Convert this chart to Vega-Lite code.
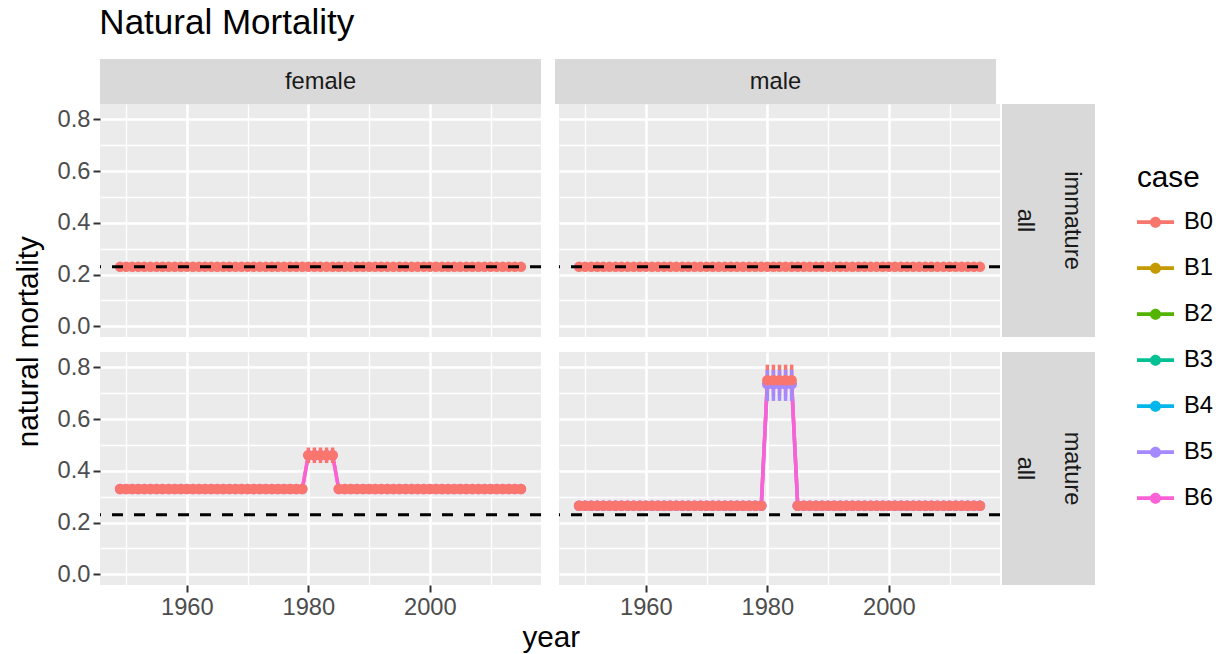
{
"$schema":"https://vega.github.io/schema/vega-lite/v6.json",
"padding":{"left":14,"top":6,"right":5,"bottom":5},
"config":{"font":"Liberation Sans","view":{"stroke":null},
"axis":{"labelFontSize":23.7,"labelColor":"#4D4D4D","tickColor":"#333333","tickSize":7,"tickWidth":2,"domain":false,"gridColor":"#FFFFFF","labelPadding":3,"titleFontSize":29.7,"titleFontWeight":"normal","titleColor":"#000000"},
"legend":{"titleFontSize":29.7,"titleFontWeight":"normal","titleColor":"#000000","labelFontSize":23.7,"labelColor":"#000000","symbolSize":1369,"symbolStrokeWidth":0,"rowPadding":15,"labelOffset":10,"titlePadding":10},
"title":{"fontSize":35,"fontWeight":"normal","color":"#000000"}},
"title":{"text":"Natural Mortality","anchor":"start","dx":85,"offset":18},
"datasets":{
"ref":[{"M":0.23}],
"strips":[{"sex":"female"},{"sex":"male"}],
"rowstrips":[{"stage":"immature","k":1,"label":"all"},{"stage":"immature","k":2,"label":"immature"},{"stage":"mature","k":1,"label":"all"},{"stage":"mature","k":2,"label":"mature"}],
"fi":[{"case":"B0","year":1949,"M":0.23},{"case":"B0","year":1950,"M":0.23},{"case":"B0","year":1951,"M":0.23},{"case":"B0","year":1952,"M":0.23},{"case":"B0","year":1953,"M":0.23},{"case":"B0","year":1954,"M":0.23},{"case":"B0","year":1955,"M":0.23},{"case":"B0","year":1956,"M":0.23},{"case":"B0","year":1957,"M":0.23},{"case":"B0","year":1958,"M":0.23},{"case":"B0","year":1959,"M":0.23},{"case":"B0","year":1960,"M":0.23},{"case":"B0","year":1961,"M":0.23},{"case":"B0","year":1962,"M":0.23},{"case":"B0","year":1963,"M":0.23},{"case":"B0","year":1964,"M":0.23},{"case":"B0","year":1965,"M":0.23},{"case":"B0","year":1966,"M":0.23},{"case":"B0","year":1967,"M":0.23},{"case":"B0","year":1968,"M":0.23},{"case":"B0","year":1969,"M":0.23},{"case":"B0","year":1970,"M":0.23},{"case":"B0","year":1971,"M":0.23},{"case":"B0","year":1972,"M":0.23},{"case":"B0","year":1973,"M":0.23},{"case":"B0","year":1974,"M":0.23},{"case":"B0","year":1975,"M":0.23},{"case":"B0","year":1976,"M":0.23},{"case":"B0","year":1977,"M":0.23},{"case":"B0","year":1978,"M":0.23},{"case":"B0","year":1979,"M":0.23},{"case":"B0","year":1980,"M":0.23},{"case":"B0","year":1981,"M":0.23},{"case":"B0","year":1982,"M":0.23},{"case":"B0","year":1983,"M":0.23},{"case":"B0","year":1984,"M":0.23},{"case":"B0","year":1985,"M":0.23},{"case":"B0","year":1986,"M":0.23},{"case":"B0","year":1987,"M":0.23},{"case":"B0","year":1988,"M":0.23},{"case":"B0","year":1989,"M":0.23},{"case":"B0","year":1990,"M":0.23},{"case":"B0","year":1991,"M":0.23},{"case":"B0","year":1992,"M":0.23},{"case":"B0","year":1993,"M":0.23},{"case":"B0","year":1994,"M":0.23},{"case":"B0","year":1995,"M":0.23},{"case":"B0","year":1996,"M":0.23},{"case":"B0","year":1997,"M":0.23},{"case":"B0","year":1998,"M":0.23},{"case":"B0","year":1999,"M":0.23},{"case":"B0","year":2000,"M":0.23},{"case":"B0","year":2001,"M":0.23},{"case":"B0","year":2002,"M":0.23},{"case":"B0","year":2003,"M":0.23},{"case":"B0","year":2004,"M":0.23},{"case":"B0","year":2005,"M":0.23},{"case":"B0","year":2006,"M":0.23},{"case":"B0","year":2007,"M":0.23},{"case":"B0","year":2008,"M":0.23},{"case":"B0","year":2009,"M":0.23},{"case":"B0","year":2010,"M":0.23},{"case":"B0","year":2011,"M":0.23},{"case":"B0","year":2012,"M":0.23},{"case":"B0","year":2013,"M":0.23},{"case":"B0","year":2014,"M":0.23},{"case":"B0","year":2015,"M":0.23}],
"mi":[{"case":"B0","year":1949,"M":0.23},{"case":"B0","year":1950,"M":0.23},{"case":"B0","year":1951,"M":0.23},{"case":"B0","year":1952,"M":0.23},{"case":"B0","year":1953,"M":0.23},{"case":"B0","year":1954,"M":0.23},{"case":"B0","year":1955,"M":0.23},{"case":"B0","year":1956,"M":0.23},{"case":"B0","year":1957,"M":0.23},{"case":"B0","year":1958,"M":0.23},{"case":"B0","year":1959,"M":0.23},{"case":"B0","year":1960,"M":0.23},{"case":"B0","year":1961,"M":0.23},{"case":"B0","year":1962,"M":0.23},{"case":"B0","year":1963,"M":0.23},{"case":"B0","year":1964,"M":0.23},{"case":"B0","year":1965,"M":0.23},{"case":"B0","year":1966,"M":0.23},{"case":"B0","year":1967,"M":0.23},{"case":"B0","year":1968,"M":0.23},{"case":"B0","year":1969,"M":0.23},{"case":"B0","year":1970,"M":0.23},{"case":"B0","year":1971,"M":0.23},{"case":"B0","year":1972,"M":0.23},{"case":"B0","year":1973,"M":0.23},{"case":"B0","year":1974,"M":0.23},{"case":"B0","year":1975,"M":0.23},{"case":"B0","year":1976,"M":0.23},{"case":"B0","year":1977,"M":0.23},{"case":"B0","year":1978,"M":0.23},{"case":"B0","year":1979,"M":0.23},{"case":"B0","year":1980,"M":0.23},{"case":"B0","year":1981,"M":0.23},{"case":"B0","year":1982,"M":0.23},{"case":"B0","year":1983,"M":0.23},{"case":"B0","year":1984,"M":0.23},{"case":"B0","year":1985,"M":0.23},{"case":"B0","year":1986,"M":0.23},{"case":"B0","year":1987,"M":0.23},{"case":"B0","year":1988,"M":0.23},{"case":"B0","year":1989,"M":0.23},{"case":"B0","year":1990,"M":0.23},{"case":"B0","year":1991,"M":0.23},{"case":"B0","year":1992,"M":0.23},{"case":"B0","year":1993,"M":0.23},{"case":"B0","year":1994,"M":0.23},{"case":"B0","year":1995,"M":0.23},{"case":"B0","year":1996,"M":0.23},{"case":"B0","year":1997,"M":0.23},{"case":"B0","year":1998,"M":0.23},{"case":"B0","year":1999,"M":0.23},{"case":"B0","year":2000,"M":0.23},{"case":"B0","year":2001,"M":0.23},{"case":"B0","year":2002,"M":0.23},{"case":"B0","year":2003,"M":0.23},{"case":"B0","year":2004,"M":0.23},{"case":"B0","year":2005,"M":0.23},{"case":"B0","year":2006,"M":0.23},{"case":"B0","year":2007,"M":0.23},{"case":"B0","year":2008,"M":0.23},{"case":"B0","year":2009,"M":0.23},{"case":"B0","year":2010,"M":0.23},{"case":"B0","year":2011,"M":0.23},{"case":"B0","year":2012,"M":0.23},{"case":"B0","year":2013,"M":0.23},{"case":"B0","year":2014,"M":0.23},{"case":"B0","year":2015,"M":0.23}],
"fm":[{"case":"B0","year":1949,"M":0.33},{"case":"B0","year":1950,"M":0.33},{"case":"B0","year":1951,"M":0.33},{"case":"B0","year":1952,"M":0.33},{"case":"B0","year":1953,"M":0.33},{"case":"B0","year":1954,"M":0.33},{"case":"B0","year":1955,"M":0.33},{"case":"B0","year":1956,"M":0.33},{"case":"B0","year":1957,"M":0.33},{"case":"B0","year":1958,"M":0.33},{"case":"B0","year":1959,"M":0.33},{"case":"B0","year":1960,"M":0.33},{"case":"B0","year":1961,"M":0.33},{"case":"B0","year":1962,"M":0.33},{"case":"B0","year":1963,"M":0.33},{"case":"B0","year":1964,"M":0.33},{"case":"B0","year":1965,"M":0.33},{"case":"B0","year":1966,"M":0.33},{"case":"B0","year":1967,"M":0.33},{"case":"B0","year":1968,"M":0.33},{"case":"B0","year":1969,"M":0.33},{"case":"B0","year":1970,"M":0.33},{"case":"B0","year":1971,"M":0.33},{"case":"B0","year":1972,"M":0.33},{"case":"B0","year":1973,"M":0.33},{"case":"B0","year":1974,"M":0.33},{"case":"B0","year":1975,"M":0.33},{"case":"B0","year":1976,"M":0.33},{"case":"B0","year":1977,"M":0.33},{"case":"B0","year":1978,"M":0.33},{"case":"B0","year":1979,"M":0.33},{"case":"B0","year":1980,"M":0.46,"lo":0.43,"hi":0.49},{"case":"B0","year":1981,"M":0.46,"lo":0.43,"hi":0.49},{"case":"B0","year":1982,"M":0.46,"lo":0.43,"hi":0.49},{"case":"B0","year":1983,"M":0.46,"lo":0.43,"hi":0.49},{"case":"B0","year":1984,"M":0.46,"lo":0.43,"hi":0.49},{"case":"B0","year":1985,"M":0.33},{"case":"B0","year":1986,"M":0.33},{"case":"B0","year":1987,"M":0.33},{"case":"B0","year":1988,"M":0.33},{"case":"B0","year":1989,"M":0.33},{"case":"B0","year":1990,"M":0.33},{"case":"B0","year":1991,"M":0.33},{"case":"B0","year":1992,"M":0.33},{"case":"B0","year":1993,"M":0.33},{"case":"B0","year":1994,"M":0.33},{"case":"B0","year":1995,"M":0.33},{"case":"B0","year":1996,"M":0.33},{"case":"B0","year":1997,"M":0.33},{"case":"B0","year":1998,"M":0.33},{"case":"B0","year":1999,"M":0.33},{"case":"B0","year":2000,"M":0.33},{"case":"B0","year":2001,"M":0.33},{"case":"B0","year":2002,"M":0.33},{"case":"B0","year":2003,"M":0.33},{"case":"B0","year":2004,"M":0.33},{"case":"B0","year":2005,"M":0.33},{"case":"B0","year":2006,"M":0.33},{"case":"B0","year":2007,"M":0.33},{"case":"B0","year":2008,"M":0.33},{"case":"B0","year":2009,"M":0.33},{"case":"B0","year":2010,"M":0.33},{"case":"B0","year":2011,"M":0.33},{"case":"B0","year":2012,"M":0.33},{"case":"B0","year":2013,"M":0.33},{"case":"B0","year":2014,"M":0.33},{"case":"B0","year":2015,"M":0.33},
{"case":"B6","year":1949,"M":0.33},{"case":"B6","year":1950,"M":0.33},{"case":"B6","year":1951,"M":0.33},{"case":"B6","year":1952,"M":0.33},{"case":"B6","year":1953,"M":0.33},{"case":"B6","year":1954,"M":0.33},{"case":"B6","year":1955,"M":0.33},{"case":"B6","year":1956,"M":0.33},{"case":"B6","year":1957,"M":0.33},{"case":"B6","year":1958,"M":0.33},{"case":"B6","year":1959,"M":0.33},{"case":"B6","year":1960,"M":0.33},{"case":"B6","year":1961,"M":0.33},{"case":"B6","year":1962,"M":0.33},{"case":"B6","year":1963,"M":0.33},{"case":"B6","year":1964,"M":0.33},{"case":"B6","year":1965,"M":0.33},{"case":"B6","year":1966,"M":0.33},{"case":"B6","year":1967,"M":0.33},{"case":"B6","year":1968,"M":0.33},{"case":"B6","year":1969,"M":0.33},{"case":"B6","year":1970,"M":0.33},{"case":"B6","year":1971,"M":0.33},{"case":"B6","year":1972,"M":0.33},{"case":"B6","year":1973,"M":0.33},{"case":"B6","year":1974,"M":0.33},{"case":"B6","year":1975,"M":0.33},{"case":"B6","year":1976,"M":0.33},{"case":"B6","year":1977,"M":0.33},{"case":"B6","year":1978,"M":0.33},{"case":"B6","year":1979,"M":0.33},{"case":"B6","year":1980,"M":0.46},{"case":"B6","year":1981,"M":0.46},{"case":"B6","year":1982,"M":0.46},{"case":"B6","year":1983,"M":0.46},{"case":"B6","year":1984,"M":0.46},{"case":"B6","year":1985,"M":0.33},{"case":"B6","year":1986,"M":0.33},{"case":"B6","year":1987,"M":0.33},{"case":"B6","year":1988,"M":0.33},{"case":"B6","year":1989,"M":0.33},{"case":"B6","year":1990,"M":0.33},{"case":"B6","year":1991,"M":0.33},{"case":"B6","year":1992,"M":0.33},{"case":"B6","year":1993,"M":0.33},{"case":"B6","year":1994,"M":0.33},{"case":"B6","year":1995,"M":0.33},{"case":"B6","year":1996,"M":0.33},{"case":"B6","year":1997,"M":0.33},{"case":"B6","year":1998,"M":0.33},{"case":"B6","year":1999,"M":0.33},{"case":"B6","year":2000,"M":0.33},{"case":"B6","year":2001,"M":0.33},{"case":"B6","year":2002,"M":0.33},{"case":"B6","year":2003,"M":0.33},{"case":"B6","year":2004,"M":0.33},{"case":"B6","year":2005,"M":0.33},{"case":"B6","year":2006,"M":0.33},{"case":"B6","year":2007,"M":0.33},{"case":"B6","year":2008,"M":0.33},{"case":"B6","year":2009,"M":0.33},{"case":"B6","year":2010,"M":0.33},{"case":"B6","year":2011,"M":0.33},{"case":"B6","year":2012,"M":0.33},{"case":"B6","year":2013,"M":0.33},{"case":"B6","year":2014,"M":0.33},{"case":"B6","year":2015,"M":0.33}],
"mm":[{"case":"B0","year":1949,"M":0.265},{"case":"B0","year":1950,"M":0.265},{"case":"B0","year":1951,"M":0.265},{"case":"B0","year":1952,"M":0.265},{"case":"B0","year":1953,"M":0.265},{"case":"B0","year":1954,"M":0.265},{"case":"B0","year":1955,"M":0.265},{"case":"B0","year":1956,"M":0.265},{"case":"B0","year":1957,"M":0.265},{"case":"B0","year":1958,"M":0.265},{"case":"B0","year":1959,"M":0.265},{"case":"B0","year":1960,"M":0.265},{"case":"B0","year":1961,"M":0.265},{"case":"B0","year":1962,"M":0.265},{"case":"B0","year":1963,"M":0.265},{"case":"B0","year":1964,"M":0.265},{"case":"B0","year":1965,"M":0.265},{"case":"B0","year":1966,"M":0.265},{"case":"B0","year":1967,"M":0.265},{"case":"B0","year":1968,"M":0.265},{"case":"B0","year":1969,"M":0.265},{"case":"B0","year":1970,"M":0.265},{"case":"B0","year":1971,"M":0.265},{"case":"B0","year":1972,"M":0.265},{"case":"B0","year":1973,"M":0.265},{"case":"B0","year":1974,"M":0.265},{"case":"B0","year":1975,"M":0.265},{"case":"B0","year":1976,"M":0.265},{"case":"B0","year":1977,"M":0.265},{"case":"B0","year":1978,"M":0.265},{"case":"B0","year":1979,"M":0.265},{"case":"B0","year":1980,"M":0.75,"lo":0.69,"hi":0.81},{"case":"B0","year":1981,"M":0.75,"lo":0.69,"hi":0.81},{"case":"B0","year":1982,"M":0.75,"lo":0.69,"hi":0.81},{"case":"B0","year":1983,"M":0.75,"lo":0.69,"hi":0.81},{"case":"B0","year":1984,"M":0.75,"lo":0.69,"hi":0.81},{"case":"B0","year":1985,"M":0.265},{"case":"B0","year":1986,"M":0.265},{"case":"B0","year":1987,"M":0.265},{"case":"B0","year":1988,"M":0.265},{"case":"B0","year":1989,"M":0.265},{"case":"B0","year":1990,"M":0.265},{"case":"B0","year":1991,"M":0.265},{"case":"B0","year":1992,"M":0.265},{"case":"B0","year":1993,"M":0.265},{"case":"B0","year":1994,"M":0.265},{"case":"B0","year":1995,"M":0.265},{"case":"B0","year":1996,"M":0.265},{"case":"B0","year":1997,"M":0.265},{"case":"B0","year":1998,"M":0.265},{"case":"B0","year":1999,"M":0.265},{"case":"B0","year":2000,"M":0.265},{"case":"B0","year":2001,"M":0.265},{"case":"B0","year":2002,"M":0.265},{"case":"B0","year":2003,"M":0.265},{"case":"B0","year":2004,"M":0.265},{"case":"B0","year":2005,"M":0.265},{"case":"B0","year":2006,"M":0.265},{"case":"B0","year":2007,"M":0.265},{"case":"B0","year":2008,"M":0.265},{"case":"B0","year":2009,"M":0.265},{"case":"B0","year":2010,"M":0.265},{"case":"B0","year":2011,"M":0.265},{"case":"B0","year":2012,"M":0.265},{"case":"B0","year":2013,"M":0.265},{"case":"B0","year":2014,"M":0.265},{"case":"B0","year":2015,"M":0.265},
{"case":"B5","year":1949,"M":0.265},{"case":"B5","year":1950,"M":0.265},{"case":"B5","year":1951,"M":0.265},{"case":"B5","year":1952,"M":0.265},{"case":"B5","year":1953,"M":0.265},{"case":"B5","year":1954,"M":0.265},{"case":"B5","year":1955,"M":0.265},{"case":"B5","year":1956,"M":0.265},{"case":"B5","year":1957,"M":0.265},{"case":"B5","year":1958,"M":0.265},{"case":"B5","year":1959,"M":0.265},{"case":"B5","year":1960,"M":0.265},{"case":"B5","year":1961,"M":0.265},{"case":"B5","year":1962,"M":0.265},{"case":"B5","year":1963,"M":0.265},{"case":"B5","year":1964,"M":0.265},{"case":"B5","year":1965,"M":0.265},{"case":"B5","year":1966,"M":0.265},{"case":"B5","year":1967,"M":0.265},{"case":"B5","year":1968,"M":0.265},{"case":"B5","year":1969,"M":0.265},{"case":"B5","year":1970,"M":0.265},{"case":"B5","year":1971,"M":0.265},{"case":"B5","year":1972,"M":0.265},{"case":"B5","year":1973,"M":0.265},{"case":"B5","year":1974,"M":0.265},{"case":"B5","year":1975,"M":0.265},{"case":"B5","year":1976,"M":0.265},{"case":"B5","year":1977,"M":0.265},{"case":"B5","year":1978,"M":0.265},{"case":"B5","year":1979,"M":0.265},{"case":"B5","year":1980,"M":0.735,"lo":0.67,"hi":0.79},{"case":"B5","year":1981,"M":0.735,"lo":0.67,"hi":0.79},{"case":"B5","year":1982,"M":0.735,"lo":0.67,"hi":0.79},{"case":"B5","year":1983,"M":0.735,"lo":0.67,"hi":0.79},{"case":"B5","year":1984,"M":0.735,"lo":0.67,"hi":0.79},{"case":"B5","year":1985,"M":0.265},{"case":"B5","year":1986,"M":0.265},{"case":"B5","year":1987,"M":0.265},{"case":"B5","year":1988,"M":0.265},{"case":"B5","year":1989,"M":0.265},{"case":"B5","year":1990,"M":0.265},{"case":"B5","year":1991,"M":0.265},{"case":"B5","year":1992,"M":0.265},{"case":"B5","year":1993,"M":0.265},{"case":"B5","year":1994,"M":0.265},{"case":"B5","year":1995,"M":0.265},{"case":"B5","year":1996,"M":0.265},{"case":"B5","year":1997,"M":0.265},{"case":"B5","year":1998,"M":0.265},{"case":"B5","year":1999,"M":0.265},{"case":"B5","year":2000,"M":0.265},{"case":"B5","year":2001,"M":0.265},{"case":"B5","year":2002,"M":0.265},{"case":"B5","year":2003,"M":0.265},{"case":"B5","year":2004,"M":0.265},{"case":"B5","year":2005,"M":0.265},{"case":"B5","year":2006,"M":0.265},{"case":"B5","year":2007,"M":0.265},{"case":"B5","year":2008,"M":0.265},{"case":"B5","year":2009,"M":0.265},{"case":"B5","year":2010,"M":0.265},{"case":"B5","year":2011,"M":0.265},{"case":"B5","year":2012,"M":0.265},{"case":"B5","year":2013,"M":0.265},{"case":"B5","year":2014,"M":0.265},{"case":"B5","year":2015,"M":0.265},
{"case":"B6","year":1949,"M":0.265},{"case":"B6","year":1950,"M":0.265},{"case":"B6","year":1951,"M":0.265},{"case":"B6","year":1952,"M":0.265},{"case":"B6","year":1953,"M":0.265},{"case":"B6","year":1954,"M":0.265},{"case":"B6","year":1955,"M":0.265},{"case":"B6","year":1956,"M":0.265},{"case":"B6","year":1957,"M":0.265},{"case":"B6","year":1958,"M":0.265},{"case":"B6","year":1959,"M":0.265},{"case":"B6","year":1960,"M":0.265},{"case":"B6","year":1961,"M":0.265},{"case":"B6","year":1962,"M":0.265},{"case":"B6","year":1963,"M":0.265},{"case":"B6","year":1964,"M":0.265},{"case":"B6","year":1965,"M":0.265},{"case":"B6","year":1966,"M":0.265},{"case":"B6","year":1967,"M":0.265},{"case":"B6","year":1968,"M":0.265},{"case":"B6","year":1969,"M":0.265},{"case":"B6","year":1970,"M":0.265},{"case":"B6","year":1971,"M":0.265},{"case":"B6","year":1972,"M":0.265},{"case":"B6","year":1973,"M":0.265},{"case":"B6","year":1974,"M":0.265},{"case":"B6","year":1975,"M":0.265},{"case":"B6","year":1976,"M":0.265},{"case":"B6","year":1977,"M":0.265},{"case":"B6","year":1978,"M":0.265},{"case":"B6","year":1979,"M":0.265},{"case":"B6","year":1980,"M":0.735},{"case":"B6","year":1981,"M":0.735},{"case":"B6","year":1982,"M":0.735},{"case":"B6","year":1983,"M":0.735},{"case":"B6","year":1984,"M":0.735},{"case":"B6","year":1985,"M":0.265},{"case":"B6","year":1986,"M":0.265},{"case":"B6","year":1987,"M":0.265},{"case":"B6","year":1988,"M":0.265},{"case":"B6","year":1989,"M":0.265},{"case":"B6","year":1990,"M":0.265},{"case":"B6","year":1991,"M":0.265},{"case":"B6","year":1992,"M":0.265},{"case":"B6","year":1993,"M":0.265},{"case":"B6","year":1994,"M":0.265},{"case":"B6","year":1995,"M":0.265},{"case":"B6","year":1996,"M":0.265},{"case":"B6","year":1997,"M":0.265},{"case":"B6","year":1998,"M":0.265},{"case":"B6","year":1999,"M":0.265},{"case":"B6","year":2000,"M":0.265},{"case":"B6","year":2001,"M":0.265},{"case":"B6","year":2002,"M":0.265},{"case":"B6","year":2003,"M":0.265},{"case":"B6","year":2004,"M":0.265},{"case":"B6","year":2005,"M":0.265},{"case":"B6","year":2006,"M":0.265},{"case":"B6","year":2007,"M":0.265},{"case":"B6","year":2008,"M":0.265},{"case":"B6","year":2009,"M":0.265},{"case":"B6","year":2010,"M":0.265},{"case":"B6","year":2011,"M":0.265},{"case":"B6","year":2012,"M":0.265},{"case":"B6","year":2013,"M":0.265},{"case":"B6","year":2014,"M":0.265},{"case":"B6","year":2015,"M":0.265}]
},
"resolve":{"scale":{"color":"shared"},"legend":{"color":"shared"}},
"spacing":0,
"vconcat":[
{"hconcat":[
 {"width":441,"height":45,"view":{"fill":"#D9D9D9","stroke":null},"layer":[
  {"data":{"name":"strips"},"transform":[{"filter":"datum.sex=='female'"}],"mark":{"type":"text","fontSize":23.7,"color":"#1A1A1A"},"encoding":{"text":{"field":"sex"}}},
  {"data":{"name":"ref"},"mark":{"type":"rule","opacity":0},"encoding":{"y":{"field":"M","type":"quantitative","scale":{"domain":[0,1]},"axis":{"values":[0.5],"labelExpr":"'0.0'","labelColor":"transparent","tickColor":"transparent","grid":false,"title":"n","titleColor":"transparent","titlePadding":12}}}}
 ]},
 {"width":441,"height":45,"view":{"fill":"#D9D9D9","stroke":null},"data":{"name":"strips"},"transform":[{"filter":"datum.sex=='male'"}],"mark":{"type":"text","fontSize":23.7,"color":"#1A1A1A"},"encoding":{"text":{"field":"sex"}}}
],"spacing":14},
{"title":{"text":"natural mortality","orient":"left","anchor":"middle","fontSize":29.7,"offset":12,"dx":36.5},
 "vconcat":[
 {"hconcat":[
  {"hconcat":[
   {"width":441,"height":233,"view":{"fill":"#EBEBEB","stroke":null},"resolve":{"axis":{"y":"independent"}},"layer":[
     {"data":{"name":"fi"},"encoding":{
       "x":{"field":"year","type":"quantitative","scale":{"domain":[1945.7,2018.3],"nice":false,"zero":false},"axis":{"values":[1950,1960,1970,1980,1990,2000,2010],"labels":false,"ticks":false,"title":null,"gridWidth":{"condition":{"test":"datum.value % 20 != 0","value":1.3},"value":2.6}}},
       "y":{"field":"M","type":"quantitative","scale":{"domain":[-0.041,0.859],"nice":false,"zero":false},"axis":{"values":[0,0.1,0.2,0.3,0.4,0.5,0.6,0.7,0.8],"labelExpr":"round(datum.value*10) % 2 == 0 ? format(datum.value,'.1f') : ''","tickOpacity":{"condition":{"test":"round(datum.value*10) % 2 == 1","value":0},"value":1},"gridWidth":{"condition":{"test":"round(datum.value*10) % 2 == 1","value":1.3},"value":2.6},"title":null}},
       "color":{"field":"case","type":"nominal","scale":{"domain":["B0","B1","B2","B3","B4","B5","B6"],"range":["#F8766D","#C49A00","#53B400","#00C094","#00B6EB","#A58AFF","#FB61D7"]},"legend":{"title":"case","orient":"none","legendX":1037,"legendY":105,"symbolType":"M-1,-0.1L1,-0.1L1,0.1L-1,0.1Z M0.3,0A0.3,0.3 0 1,1 -0.3,0A0.3,0.3 0 1,1 0.3,0Z","encode":{"symbols":{"update":{"fill":{"scale":"color","field":"value"},"stroke":{"value":"transparent"},"opacity":{"value":1}}}}}}},
      "layer":[
       {"mark":{"type":"line","strokeWidth":3.5}},
       {"transform":[{"filter":"isValid(datum.lo)"}],"mark":{"type":"rule","strokeWidth":3.5},"encoding":{"y":{"field":"lo","type":"quantitative"},"y2":{"field":"hi"}}},
       {"mark":{"type":"point","filled":true,"size":110,"opacity":1},"encoding":{"order":{"field":"case","sort":"descending"}}}
      ]},
     {"data":{"name":"ref"},"mark":{"type":"rule","color":"#000000","strokeWidth":3,"strokeDash":[11,11]},"encoding":{"y":{"field":"M","type":"quantitative","scale":{"domain":[-0.041,0.859],"nice":false,"zero":false},"axis":null}}}
   ]},
   {"width":441,"height":233,"view":{"fill":"#EBEBEB","stroke":null},"resolve":{"axis":{"y":"independent"}},"layer":[
     {"data":{"name":"mi"},"encoding":{
       "x":{"field":"year","type":"quantitative","scale":{"domain":[1945.7,2018.3],"nice":false,"zero":false},"axis":{"values":[1950,1960,1970,1980,1990,2000,2010],"labels":false,"ticks":false,"title":null,"gridWidth":{"condition":{"test":"datum.value % 20 != 0","value":1.3},"value":2.6}}},
       "y":{"field":"M","type":"quantitative","scale":{"domain":[-0.041,0.859],"nice":false,"zero":false},"axis":{"values":[0,0.1,0.2,0.3,0.4,0.5,0.6,0.7,0.8],"labels":false,"ticks":false,"title":null,"gridWidth":{"condition":{"test":"round(datum.value*10) % 2 == 1","value":1.3},"value":2.6}}},
       "color":{"field":"case","type":"nominal","scale":{"domain":["B0","B1","B2","B3","B4","B5","B6"],"range":["#F8766D","#C49A00","#53B400","#00C094","#00B6EB","#A58AFF","#FB61D7"]},"legend":{"title":"case","orient":"none","legendX":1037,"legendY":105,"symbolType":"M-1,-0.1L1,-0.1L1,0.1L-1,0.1Z M0.3,0A0.3,0.3 0 1,1 -0.3,0A0.3,0.3 0 1,1 0.3,0Z","encode":{"symbols":{"update":{"fill":{"scale":"color","field":"value"},"stroke":{"value":"transparent"},"opacity":{"value":1}}}}}}},
      "layer":[
       {"mark":{"type":"line","strokeWidth":3.5}},
       {"transform":[{"filter":"isValid(datum.lo)"}],"mark":{"type":"rule","strokeWidth":3.5},"encoding":{"y":{"field":"lo","type":"quantitative"},"y2":{"field":"hi"}}},
       {"mark":{"type":"point","filled":true,"size":110,"opacity":1},"encoding":{"order":{"field":"case","sort":"descending"}}}
      ]},
     {"data":{"name":"ref"},"mark":{"type":"rule","color":"#000000","strokeWidth":3,"strokeDash":[11,11]},"encoding":{"y":{"field":"M","type":"quantitative","scale":{"domain":[-0.041,0.859],"nice":false,"zero":false},"axis":null}}}
   ]}
  ],"spacing":14},
  {"width":93,"height":233,"view":{"fill":"#D9D9D9","stroke":null},"data":{"name":"rowstrips"},"transform":[{"filter":"datum.stage=='immature'"}],"mark":{"type":"text","fontSize":23.7,"color":"#1A1A1A","angle":90,"baseline":"middle","align":"center"},"encoding":{"x":{"field":"k","type":"ordinal","scale":{"type":"point","padding":0.5},"axis":null},"text":{"field":"label"}}}
 ],"spacing":0},
 {"hconcat":[
  {"title":{"text":"year","orient":"bottom","anchor":"middle","fontSize":29.7,"offset":5,"dx":22},
   "hconcat":[
   {"width":441,"height":233,"view":{"fill":"#EBEBEB","stroke":null},"resolve":{"axis":{"y":"independent"}},"layer":[
     {"data":{"name":"fm"},"encoding":{
       "x":{"field":"year","type":"quantitative","scale":{"domain":[1945.7,2018.3],"nice":false,"zero":false},"axis":{"values":[1950,1960,1970,1980,1990,2000,2010],"format":"d","labelExpr":"datum.value % 20 == 0 ? datum.label : ''","tickOpacity":{"condition":{"test":"datum.value % 20 != 0","value":0},"value":1},"gridWidth":{"condition":{"test":"datum.value % 20 != 0","value":1.3},"value":2.6},"title":null}},
       "y":{"field":"M","type":"quantitative","scale":{"domain":[-0.041,0.859],"nice":false,"zero":false},"axis":{"values":[0,0.1,0.2,0.3,0.4,0.5,0.6,0.7,0.8],"labelExpr":"round(datum.value*10) % 2 == 0 ? format(datum.value,'.1f') : ''","tickOpacity":{"condition":{"test":"round(datum.value*10) % 2 == 1","value":0},"value":1},"gridWidth":{"condition":{"test":"round(datum.value*10) % 2 == 1","value":1.3},"value":2.6},"title":null}},
       "color":{"field":"case","type":"nominal","scale":{"domain":["B0","B1","B2","B3","B4","B5","B6"],"range":["#F8766D","#C49A00","#53B400","#00C094","#00B6EB","#A58AFF","#FB61D7"]},"legend":{"title":"case","orient":"none","legendX":1037,"legendY":105,"symbolType":"M-1,-0.1L1,-0.1L1,0.1L-1,0.1Z M0.3,0A0.3,0.3 0 1,1 -0.3,0A0.3,0.3 0 1,1 0.3,0Z","encode":{"symbols":{"update":{"fill":{"scale":"color","field":"value"},"stroke":{"value":"transparent"},"opacity":{"value":1}}}}}}},
      "layer":[
       {"mark":{"type":"line","strokeWidth":3.5}},
       {"transform":[{"filter":"isValid(datum.lo)"}],"mark":{"type":"rule","strokeWidth":3.5},"encoding":{"y":{"field":"lo","type":"quantitative"},"y2":{"field":"hi"}}},
       {"mark":{"type":"point","filled":true,"size":110,"opacity":1},"encoding":{"order":{"field":"case","sort":"descending"}}}
      ]},
     {"data":{"name":"ref"},"mark":{"type":"rule","color":"#000000","strokeWidth":3,"strokeDash":[11,11]},"encoding":{"y":{"field":"M","type":"quantitative","scale":{"domain":[-0.041,0.859],"nice":false,"zero":false},"axis":null}}}
   ]},
   {"width":441,"height":233,"view":{"fill":"#EBEBEB","stroke":null},"resolve":{"axis":{"y":"independent"}},"layer":[
     {"data":{"name":"mm"},"encoding":{
       "x":{"field":"year","type":"quantitative","scale":{"domain":[1945.7,2018.3],"nice":false,"zero":false},"axis":{"values":[1950,1960,1970,1980,1990,2000,2010],"format":"d","labelExpr":"datum.value % 20 == 0 ? datum.label : ''","tickOpacity":{"condition":{"test":"datum.value % 20 != 0","value":0},"value":1},"gridWidth":{"condition":{"test":"datum.value % 20 != 0","value":1.3},"value":2.6},"title":null}},
       "y":{"field":"M","type":"quantitative","scale":{"domain":[-0.041,0.859],"nice":false,"zero":false},"axis":{"values":[0,0.1,0.2,0.3,0.4,0.5,0.6,0.7,0.8],"labels":false,"ticks":false,"title":null,"gridWidth":{"condition":{"test":"round(datum.value*10) % 2 == 1","value":1.3},"value":2.6}}},
       "color":{"field":"case","type":"nominal","scale":{"domain":["B0","B1","B2","B3","B4","B5","B6"],"range":["#F8766D","#C49A00","#53B400","#00C094","#00B6EB","#A58AFF","#FB61D7"]},"legend":{"title":"case","orient":"none","legendX":1037,"legendY":105,"symbolType":"M-1,-0.1L1,-0.1L1,0.1L-1,0.1Z M0.3,0A0.3,0.3 0 1,1 -0.3,0A0.3,0.3 0 1,1 0.3,0Z","encode":{"symbols":{"update":{"fill":{"scale":"color","field":"value"},"stroke":{"value":"transparent"},"opacity":{"value":1}}}}}}},
      "layer":[
       {"mark":{"type":"line","strokeWidth":3.5}},
       {"transform":[{"filter":"isValid(datum.lo)"}],"mark":{"type":"rule","strokeWidth":3.5},"encoding":{"y":{"field":"lo","type":"quantitative"},"y2":{"field":"hi"}}},
       {"mark":{"type":"point","filled":true,"size":110,"opacity":1},"encoding":{"order":{"field":"case","sort":"descending"}}}
      ]},
     {"data":{"name":"ref"},"mark":{"type":"rule","color":"#000000","strokeWidth":3,"strokeDash":[11,11]},"encoding":{"y":{"field":"M","type":"quantitative","scale":{"domain":[-0.041,0.859],"nice":false,"zero":false},"axis":null}}}
   ]}
  ],"spacing":14},
  {"width":93,"height":233,"view":{"fill":"#D9D9D9","stroke":null},"data":{"name":"rowstrips"},"transform":[{"filter":"datum.stage=='mature'"}],"mark":{"type":"text","fontSize":23.7,"color":"#1A1A1A","angle":90,"baseline":"middle","align":"center"},"encoding":{"x":{"field":"k","type":"ordinal","scale":{"type":"point","padding":0.5},"axis":null},"text":{"field":"label"}}}
 ],"spacing":0}
],"spacing":13}
]
}
